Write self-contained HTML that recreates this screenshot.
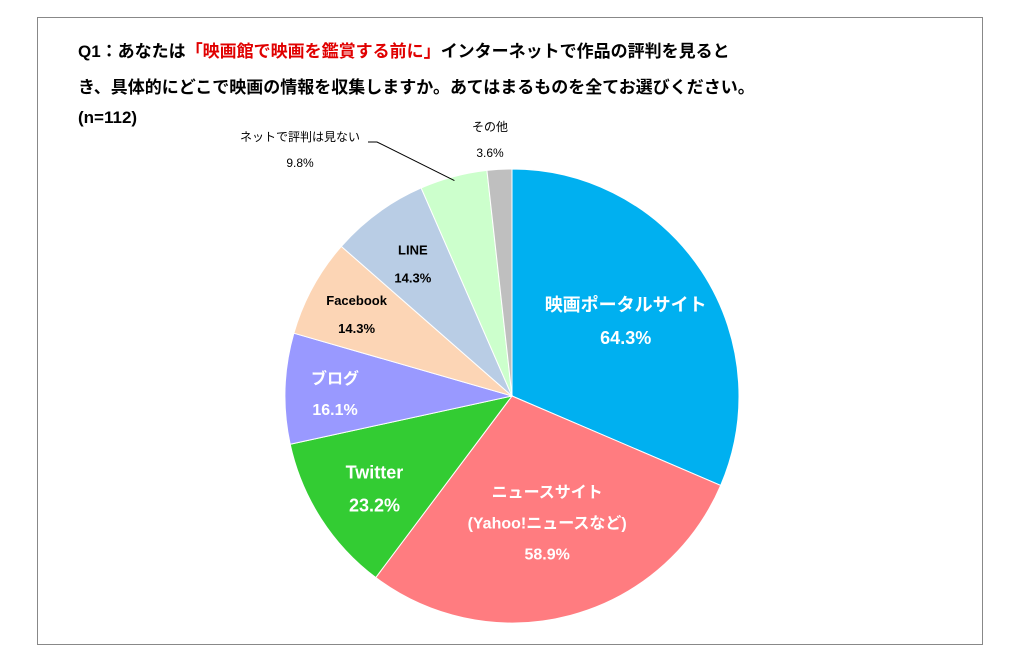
<!DOCTYPE html>
<html><head><meta charset="utf-8"><style>
body{margin:0;width:1017px;height:656px;background:#fff;overflow:hidden;font-family:"Liberation Sans","Noto Sans CJK JP",sans-serif;}
#frame{position:absolute;left:37px;top:17px;width:944px;height:626px;border:1px solid #888;}
.t{position:absolute;left:78px;font-size:17px;font-weight:bold;white-space:nowrap;color:#000;}
.red{color:#e00000;}
svg{position:absolute;left:0;top:0;}
</style></head><body>
<div id="frame"></div>
<div class="t" style="top:37px">Q1：あなたは<span class="red">「映画館で映画を鑑賞する前に」</span>インターネットで作品の評判を見ると</div>
<div class="t" style="top:73px">き、具体的にどこで映画の情報を収集しますか。あてはまるものを全てお選びください。</div>
<div class="t" style="top:108px">(n=112)</div>
<svg id="chart" width="1017" height="656"></svg>
<script>
const categories=["映画ポータルサイト","ニュースサイト(Yahoo!ニュースなど)","Twitter","ブログ","Facebook","LINE","ネットで評判は見ない","その他"];
const values=[64.3,58.9,23.2,16.1,14.3,14.3,9.8,3.6];
const colors=["#00b0f0","#ff7c80","#33cc33","#9999ff","#fcd5b5","#b9cde5","#ccffcc","#bfbfbf"];
const cx=512,cy=396,r=227;
const svg=document.getElementById('chart');
const NS="http://www.w3.org/2000/svg";
const total=values.reduce((a,b)=>a+b,0);
function pt(a,rr){return [cx+rr*Math.sin(a),cy-rr*Math.cos(a)];}
let a0=0;
const mids=[];
values.forEach((v,i)=>{
  const a1=a0+v/total*2*Math.PI;
  const [x0,y0]=pt(a0,r),[x1,y1]=pt(a1,r);
  const p=document.createElementNS(NS,'path');
  p.setAttribute('d',`M${cx},${cy}L${x0},${y0}A${r},${r} 0 ${a1-a0>Math.PI?1:0} 1 ${x1},${y1}Z`);
  p.setAttribute('fill',colors[i]);p.setAttribute('stroke','#fff');p.setAttribute('stroke-width','1');
  
  
  svg.appendChild(p);
  mids.push((a0+a1)/2);a0=a1;
});
function txt(x,y,s,size,fill,bold){
  const t=document.createElementNS(NS,'text');
  t.setAttribute('x',x);t.setAttribute('y',y);t.setAttribute('text-anchor','middle');
  t.setAttribute('font-size',size);t.setAttribute('fill',fill);
  if(bold)t.setAttribute('font-weight','bold');
  t.textContent=s;
  
  
  svg.appendChild(t);
}
const labelDefs=[
 {lines:["映画ポータルサイト"],rf:0.6,size:18,fill:"#fff",dy:-10},
 {lines:["ニュースサイト","(Yahoo!ニュースなど)"],rf:0.6,size:16,fill:"#fff",dy:-30},
 {lines:["Twitter"],rf:0.72,size:18,fill:"#fff",dy:-6},
 {lines:["ブログ"],rf:0.78,size:16,fill:"#fff",dy:-6},
 {lines:["Facebook"],rf:0.78,size:13,fill:"#000",dy:-6},
 {lines:["LINE"],rf:0.74,size:13,fill:"#000",dy:-6}
];
labelDefs.forEach((d,i)=>{
  const [x,y]=pt(mids[i],r*d.rf);
  let yy=y+d.dy;
  d.lines.forEach(l=>{txt(x,yy,l,d.size,d.fill,true);yy+=d.size+15;});
  txt(x,yy,values[i].toFixed(1)+"%",d.size,d.fill,true);
});
txt(300,141,categories[6],12,"#000",false);
txt(300,167,values[6].toFixed(1)+"%",12,"#000",false);
txt(490,131,categories[7],12,"#000",false);
txt(490,157,values[7].toFixed(1)+"%",12,"#000",false);
const ln=document.createElementNS(NS,'polyline');
const [lx,ly]=pt(mids[6],r-4);
ln.setAttribute('points',`368,142 377,142 ${lx},${ly}`);
ln.setAttribute('fill','none');ln.setAttribute('stroke','#000');ln.setAttribute('stroke-width','1');


svg.appendChild(ln);
</script>
</body></html>
